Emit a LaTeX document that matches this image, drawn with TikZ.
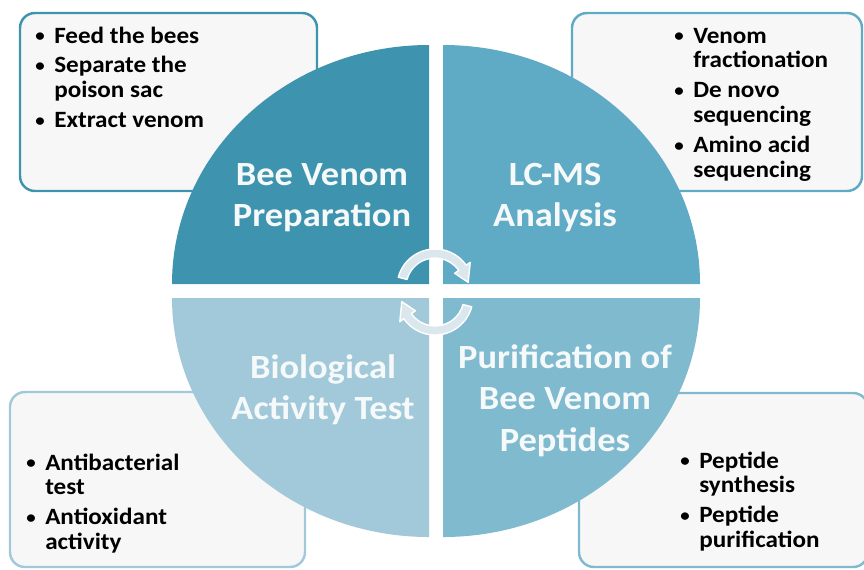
\documentclass[tikz,border=0pt]{standalone}
\usepackage{fontspec}
\setmainfont{Carlito}
\definecolor{quad_one}{RGB}{62,148,174}
\definecolor{quad_two}{RGB}{95,170,196}
\definecolor{quad_three}{RGB}{128,186,207}
\definecolor{quad_four}{RGB}{162,201,218}
\definecolor{box_fill}{RGB}{247,247,247}
\definecolor{cycle_fill}{RGB}{218,231,237}
\definecolor{title_white}{RGB}{246,249,250}
\newcommand\quadfont{\fontsize{19.3pt}{23.8pt}\selectfont\bfseries}
\newcommand\listfont{\fontsize{13.3pt}{14.2pt}\selectfont\bfseries}
\newcommand\dotmark{\raisebox{0.6pt}{\fontsize{10pt}{10pt}\selectfont\textbullet}}

\begin{document}
\begin{tikzpicture}[x=0.02cm,y=-0.02cm,line join=round]
    \tikzstyle{infobox}=[rounded corners=8.5pt, line width=1.4pt, fill=box_fill]
    \tikzstyle{title}=[text=title_white, font=\quadfont, xscale=1.075, anchor=base, inner sep=0pt]
    \tikzstyle{items}=[text=black, font=\listfont, xscale=1.075, anchor=base west, inner sep=0pt]
    \tikzstyle{cyclearrow}=[fill=cycle_fill, draw=white, line width=0.8pt]

    \useasboundingbox (0,0) rectangle (864,569);
    \clip (0,0) rectangle (864,569);

    % boxes behind the circle
    \draw[infobox,draw=quad_one]   (20,13)   rectangle (317,191);
    \draw[infobox,draw=quad_two]   (572,13)  rectangle (862,191);
    \draw[infobox,draw=quad_four]  (10,392)  rectangle (305,567);
    \draw[infobox,draw=quad_three] (579,393) rectangle (868,567);

    % four quarters of the circle
    \fill[quad_one]   (429,284) -- (172,284) arc[start angle=180,end angle=270,x radius=257,y radius=239] -- cycle;
    \fill[quad_two]   (443,284) -- (443,45)  arc[start angle=270,end angle=360,x radius=257,y radius=239] -- cycle;
    \fill[quad_three] (443,298) -- (700,298) arc[start angle=0,end angle=90,x radius=257,y radius=239] -- cycle;
    \fill[quad_four]  (429,298) -- (429,537) arc[start angle=90,end angle=180,x radius=257,y radius=239] -- cycle;

    \node[title] (prep) at (322,185) {\begin{tabular}[t]{@{}c@{}}Bee Venom\\Preparation\end{tabular}};
    \node[title] (lcms) at (555,185) {\begin{tabular}[t]{@{}c@{}}LC-MS\\Analysis\end{tabular}};
    \node[title] (bio)  at (323,378) {\begin{tabular}[t]{@{}c@{}}Biological\\Activity Test\end{tabular}};
    \node[title] (puri) at (565,368) {\begin{tabular}[t]{@{}c@{}}Purification of\\Bee Venom\\Peptides\end{tabular}};

    \node[items] (prepitems) at (35,43) {\begin{tabular}[t]{@{}p{10pt}@{}l@{}}
        \dotmark & Feed the bees\\[2.8pt]
        \dotmark & Separate the\\
                 & poison sac\\[2.8pt]
        \dotmark & Extract venom
      \end{tabular}};
    \node[items] (lcmsitems) at (674,43) {\begin{tabular}[t]{@{}p{10pt}@{}l@{}}
        \dotmark & Venom\\
                 & fractionation\\[2.8pt]
        \dotmark & De novo\\
                 & sequencing\\[2.8pt]
        \dotmark & Amino acid\\
                 & sequencing
      \end{tabular}};
    \node[items] (bioitems) at (26,470) {\begin{tabular}[t]{@{}p{10pt}@{}l@{}}
        \dotmark & Antibacterial\\
                 & test\\[2.8pt]
        \dotmark & Antioxidant\\
                 & activity
      \end{tabular}};
    \node[items] (puriitems) at (680,468) {\begin{tabular}[t]{@{}p{10pt}@{}l@{}}
        \dotmark & Peptide\\
                 & synthesis\\[2.8pt]
        \dotmark & Peptide\\
                 & purification
      \end{tabular}};

    % the two turning arrows in the middle
    \begin{scope}[shift={(435,287)}]
      \filldraw[cyclearrow] (195:29) -- (195:38) arc[start angle=195,end angle=325,radius=38]
        -- (325:43) -- (352:33.5) -- (325:24) -- (325:29) arc[start angle=325,end angle=195,radius=29] -- cycle;
    \end{scope}
    \begin{scope}[shift={(435,297)}]
      \filldraw[cyclearrow] (15:29) -- (15:38) arc[start angle=15,end angle=145,radius=38]
        -- (145:43) -- (172:33.5) -- (145:24) -- (145:29) arc[start angle=145,end angle=15,radius=29] -- cycle;
    \end{scope}
\end{tikzpicture}
\end{document}
